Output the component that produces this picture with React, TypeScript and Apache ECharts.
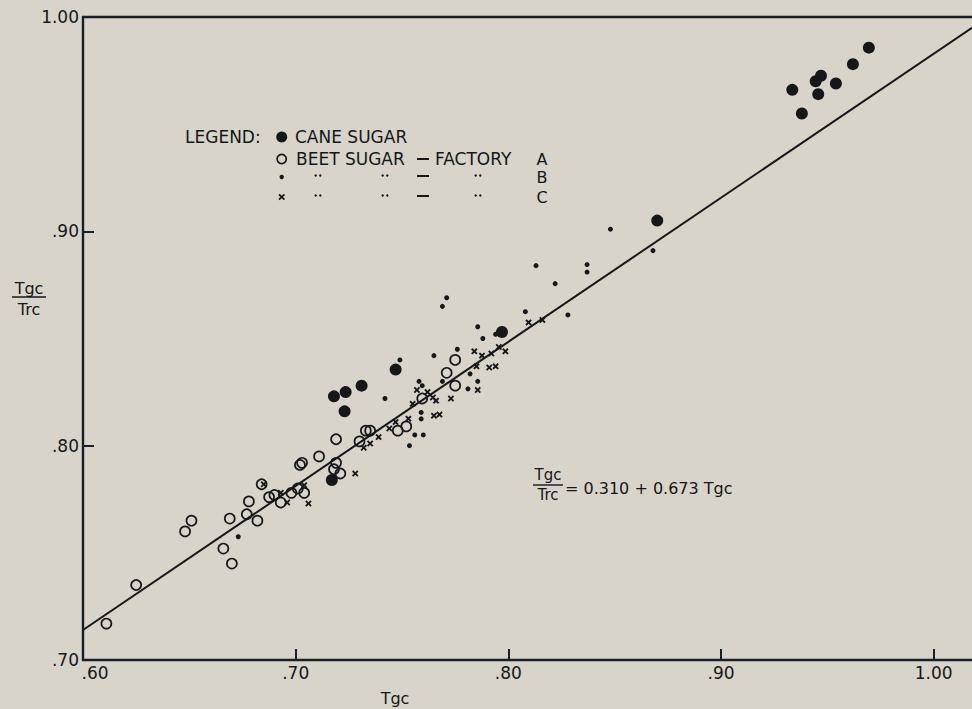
import React, { useEffect, useRef } from "react";
import * as echarts from "echarts";

// ---- data (x = Tgc, y = Tgc/Trc) ----
const caneSugar: [number, number][] = [
  [0.9695, 0.9857], [0.962, 0.978], [0.947, 0.9726], [0.9445, 0.970],
  [0.954, 0.969], [0.9335, 0.966], [0.9457, 0.964], [0.938, 0.955],
  [0.870, 0.905], [0.797, 0.853], [0.747, 0.8355], [0.731, 0.828],
  [0.7235, 0.825], [0.718, 0.823], [0.723, 0.816], [0.717, 0.784],
];

const beetA: [number, number][] = [
  [0.611, 0.717], [0.625, 0.735], [0.648, 0.760], [0.651, 0.765],
  [0.666, 0.752], [0.670, 0.745], [0.669, 0.766], [0.677, 0.768],
  [0.682, 0.765], [0.678, 0.774], [0.684, 0.782], [0.6875, 0.776],
  [0.690, 0.777], [0.693, 0.7735], [0.698, 0.778], [0.701, 0.780],
  [0.704, 0.778], [0.702, 0.791], [0.703, 0.792], [0.711, 0.795],
  [0.719, 0.803], [0.718, 0.789], [0.719, 0.792], [0.721, 0.787],
  [0.730, 0.802], [0.733, 0.807], [0.735, 0.807], [0.748, 0.807],
  [0.752, 0.809], [0.7595, 0.822], [0.771, 0.834], [0.775, 0.828],
  [0.775, 0.840],
];

const beetB: [number, number][] = [
  [0.673, 0.7575], [0.742, 0.822], [0.749, 0.840], [0.765, 0.842],
  [0.776, 0.845], [0.769, 0.865], [0.771, 0.869], [0.7856, 0.8555],
  [0.788, 0.850], [0.794, 0.852], [0.782, 0.8335], [0.7856, 0.830],
  [0.758, 0.830], [0.7595, 0.828], [0.769, 0.830], [0.781, 0.8265],
  [0.756, 0.805], [0.760, 0.805], [0.7535, 0.800], [0.759, 0.8155],
  [0.759, 0.8125], [0.808, 0.8625], [0.813, 0.884], [0.837, 0.8845],
  [0.837, 0.881], [0.822, 0.8756], [0.828, 0.861], [0.848, 0.901],
  [0.868, 0.891],
];

const beetC: [number, number][] = [
  [0.685, 0.782], [0.693, 0.778], [0.696, 0.7735], [0.704, 0.7815],
  [0.706, 0.773], [0.728, 0.787], [0.732, 0.799], [0.735, 0.801],
  [0.739, 0.804], [0.744, 0.808], [0.747, 0.811], [0.753, 0.8126],
  [0.755, 0.8195], [0.757, 0.826], [0.762, 0.825], [0.7645, 0.8225],
  [0.766, 0.821], [0.765, 0.814], [0.7676, 0.8145], [0.773, 0.822],
  [0.784, 0.844], [0.7876, 0.842], [0.792, 0.843], [0.7955, 0.846],
  [0.7986, 0.844], [0.785, 0.837], [0.791, 0.8365], [0.794, 0.837],
  [0.7856, 0.826], [0.8095, 0.8575], [0.816, 0.8586],
];

// fitted line Tgc/Trc = 0.310 + 0.673 Tgc, end points as drawn
const fitLine: [number, number][] = [
  [0.6, 0.714],
  [1.018, 0.995],
];

const xTickValues = [0.6, 0.7, 0.8, 0.9, 1.0];
const yTickValues = [0.7, 0.8, 0.9, 1.0];
const equationText = "= 0.310 + 0.673 Tgc";

const INK = "#15171a";
const AXIS = "#17202a";
const BG = "#d8d4ca";
const FONT = "DejaVu Sans";

const fmt = (v: number) => {
  const s = v.toFixed(2);
  return v >= 1 ? s : s.slice(1);
};

export default function App() {
  const ref = useRef<HTMLDivElement>(null);

  useEffect(() => {
    if (!ref.current) return;
    const chart = echarts.init(ref.current, undefined, { renderer: "svg" });

    const legendRows = [137, 159, 177, 197];
    const dittoXs = [318, 385, 478];
    const graphics: any[] = [];

    // legend
    graphics.push({
      type: "text", x: 185, y: legendRows[0],
      style: { text: "LEGEND:", font: `17px ${FONT}`, fill: INK, verticalAlign: "middle" },
    });
    graphics.push({
      type: "circle", shape: { cx: 281.7, cy: legendRows[0], r: 5.5 }, style: { fill: INK },
    });
    graphics.push({
      type: "text", x: 295, y: legendRows[0],
      style: { text: "CANE SUGAR", font: `17px ${FONT}`, fill: INK, verticalAlign: "middle" },
    });
    graphics.push({
      type: "circle", shape: { cx: 281.7, cy: legendRows[1], r: 4.6 },
      style: { fill: "none", stroke: INK, lineWidth: 1.7 },
    });
    graphics.push({
      type: "text", x: 296, y: legendRows[1],
      style: { text: "BEET SUGAR", font: `17px ${FONT}`, fill: INK, verticalAlign: "middle" },
    });
    graphics.push({
      type: "line", shape: { x1: 417, y1: legendRows[1], x2: 429, y2: legendRows[1] },
      style: { stroke: INK, lineWidth: 2 },
    });
    graphics.push({
      type: "text", x: 435, y: legendRows[1],
      style: { text: "FACTORY", font: `17px ${FONT}`, fill: INK, verticalAlign: "middle" },
    });
    const letters = ["A", "B", "C"];
    letters.forEach((l, i) => {
      graphics.push({
        type: "text", x: 542, y: legendRows[i + 1],
        style: {
          text: l, font: `16px ${FONT}`, fill: INK, verticalAlign: "middle", align: "center",
          lineHeight: 15,
        },
      });
    });
    graphics.push({
      type: "circle", shape: { cx: 281.7, cy: legendRows[2], r: 2.2 }, style: { fill: INK },
    });
    graphics.push({
      type: "line", shape: { x1: 279, y1: legendRows[3] - 2.7, x2: 284.4, y2: legendRows[3] + 2.7 },
      style: { stroke: INK, lineWidth: 1.8 },
    });
    graphics.push({
      type: "line", shape: { x1: 284.4, y1: legendRows[3] - 2.7, x2: 279, y2: legendRows[3] + 2.7 },
      style: { stroke: INK, lineWidth: 1.8 },
    });
    [2, 3].forEach((ri) => {
      const y = legendRows[ri] - 1.5;
      dittoXs.forEach((x) => {
        graphics.push({ type: "circle", shape: { cx: x - 2.3, cy: y, r: 1.2 }, style: { fill: INK } });
        graphics.push({ type: "circle", shape: { cx: x + 2.3, cy: y, r: 1.2 }, style: { fill: INK } });
      });
      graphics.push({
        type: "line", shape: { x1: 417, y1: legendRows[ri] - 1, x2: 429, y2: legendRows[ri] - 1 },
        style: { stroke: INK, lineWidth: 2 },
      });
    });

    // y-axis title (fraction)
    graphics.push({
      type: "text", x: 29, y: 288,
      style: { text: "Tgc", font: `16px ${FONT}`, fill: INK, align: "center", verticalAlign: "middle" },
    });
    graphics.push({
      type: "line", shape: { x1: 12, y1: 297, x2: 46, y2: 297 }, style: { stroke: INK, lineWidth: 1.5 },
    });
    graphics.push({
      type: "text", x: 29, y: 309,
      style: { text: "Trc", font: `16px ${FONT}`, fill: INK, align: "center", verticalAlign: "middle" },
    });
    // x-axis title
    graphics.push({
      type: "text", x: 395, y: 698,
      style: { text: "Tgc", font: `16px ${FONT}`, fill: INK, align: "center", verticalAlign: "middle" },
    });
    // equation
    graphics.push({
      type: "text", x: 548, y: 475,
      style: { text: "Tgc", font: `15px ${FONT}`, fill: INK, align: "center", verticalAlign: "middle" },
    });
    graphics.push({
      type: "line", shape: { x1: 533, y1: 485, x2: 563, y2: 485 }, style: { stroke: INK, lineWidth: 1.4 },
    });
    graphics.push({
      type: "text", x: 548, y: 495,
      style: { text: "Trc", font: `15px ${FONT}`, fill: INK, align: "center", verticalAlign: "middle" },
    });
    graphics.push({
      type: "text", x: 565, y: 488,
      style: { text: equationText, font: `16px ${FONT}`, fill: INK, verticalAlign: "middle" },
    });

    const option: any = {
      animation: false,
      backgroundColor: BG,
      grid: { left: 83, right: 0, top: 17, bottom: 49, containLabel: false },
      xAxis: [
        {
          type: "value",
          min: 0.6,
          max: 1.018,
          interval: 0.1,
          position: "bottom",
          axisLine: { show: true, lineStyle: { color: AXIS, width: 2.4 } },
          axisTick: {
            show: true, inside: true, length: 11, customValues: xTickValues,
            lineStyle: { color: AXIS, width: 2 },
          },
          axisLabel: {
            customValues: xTickValues,
            margin: 4,
            color: INK,
            fontFamily: FONT,
            fontSize: 17,
            formatter: (v: number) => (Math.abs(v - 0.6) < 1e-6 ? "{s|" + fmt(v) + "}" : fmt(v)),
            rich: { s: { padding: [0, 0, 0, 24], fontFamily: FONT, fontSize: 17, color: INK } },
          },
          splitLine: { show: false },
        },
        {
          type: "value",
          min: 0.6,
          max: 1.018,
          position: "top",
          axisLine: { show: true, lineStyle: { color: AXIS, width: 2.4 } },
          axisTick: { show: false },
          axisLabel: { show: false },
          splitLine: { show: false },
        },
      ],
      yAxis: {
        type: "value",
        min: 0.7,
        max: 1.0,
        interval: 0.1,
        axisLine: { show: true, lineStyle: { color: AXIS, width: 2.4 } },
        axisTick: {
          show: true, inside: true, length: 11, customValues: yTickValues,
          lineStyle: { color: AXIS, width: 2 },
        },
        axisLabel: {
          customValues: yTickValues,
          margin: 4,
          color: INK,
          fontFamily: FONT,
          fontSize: 17,
          formatter: (v: number) => fmt(v),
        },
        splitLine: { show: false },
      },
      series: [
        {
          name: "fit",
          type: "line",
          data: fitLine,
          symbol: "none",
          lineStyle: { color: INK, width: 2 },
          z: 1,
        },
        {
          name: "CANE SUGAR",
          type: "scatter",
          data: caneSugar,
          symbol: "circle",
          symbolSize: 12,
          itemStyle: { color: INK, opacity: 1 },
          z: 3,
        },
        {
          name: "BEET SUGAR - FACTORY A",
          type: "scatter",
          data: beetA,
          symbol: "circle",
          symbolSize: 10,
          itemStyle: { color: "rgba(0,0,0,0)", borderColor: INK, borderWidth: 1.7, opacity: 1 },
          z: 3,
        },
        {
          name: "B",
          type: "scatter",
          data: beetB,
          symbol: "circle",
          symbolSize: 5,
          itemStyle: { color: INK, opacity: 1 },
          z: 3,
        },
        {
          name: "C",
          type: "scatter",
          data: beetC,
          symbol:
            "path://M0,2 L2,0 L5,3 L8,0 L10,2 L7,5 L10,8 L8,10 L5,7 L2,10 L0,8 L3,5 Z",
          symbolSize: 6.5,
          itemStyle: { color: INK, opacity: 1 },
          z: 3,
        },
      ],
      graphic: graphics,
    };

    chart.setOption(option);
    return () => chart.dispose();
  }, []);

  return (
    <div
      ref={ref}
      style={{ position: "fixed", left: 0, top: 0, width: 972, height: 709, background: BG }}
    />
  );
}
